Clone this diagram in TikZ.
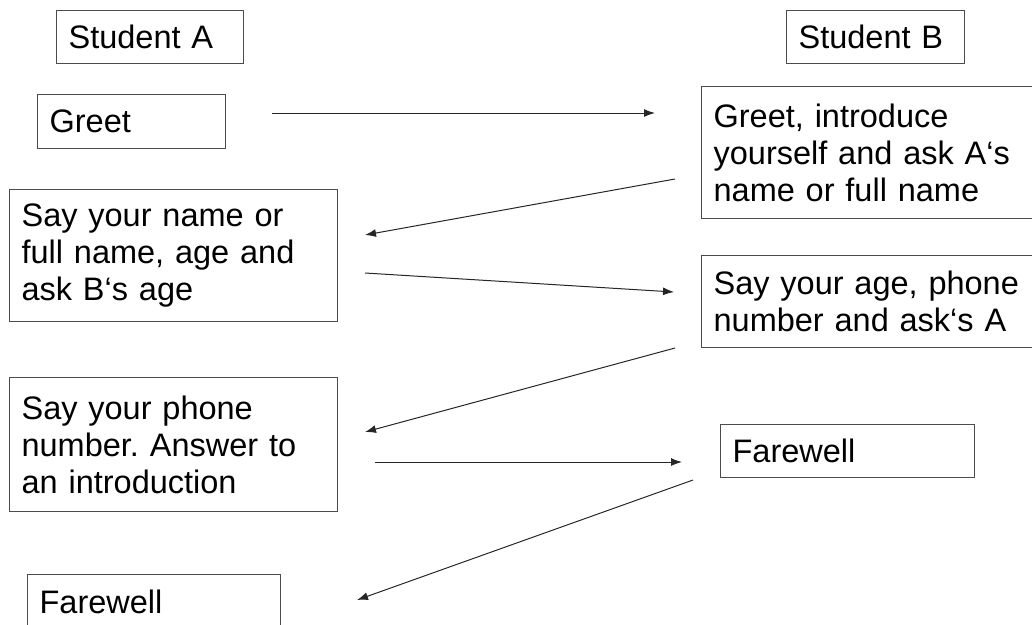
\documentclass[tikz,border=0pt]{standalone}
\usepackage{fontspec}
\setmainfont{Liberation Sans}
\usepackage{tikz}
\usetikzlibrary{positioning,arrows.meta}

\begin{document}
\frenchspacing
\begin{tikzpicture}[x=1pt,y=-1pt,
	box/.style={draw=black!70, line width=1.2pt, rectangle, anchor=north west, align=left,
		inner xsep=12pt, inner ysep=0pt, font=\fontsize{32.5}{37}\selectfont},
	talk/.style={-{Latex[length=11pt,width=8pt]}, line width=1pt, black!85}]
\useasboundingbox (0,0) rectangle (1032,624);

\node[box, minimum width=187pt, minimum height=53pt, text width=163pt] (studA) at (56,10) {Student A};
\node[box, minimum width=178pt, minimum height=53pt, text width=154pt] (studB) at (786,10) {Student B};

\node[box, minimum width=188pt, minimum height=54pt, text width=164pt] (greetA) at (37,94) {Greet};
\node[box, minimum width=335pt, minimum height=132pt, text width=311pt] (greetB) at (701,86) {Greet, introduce\\yourself and ask A‘s\\name or full name};

\node[box, minimum width=328pt, minimum height=132pt, text width=304pt] (nameA) at (9,189) {Say your name or\\full name, age and\\ask B‘s age};
\node[box, minimum width=335pt, minimum height=92pt, text width=311pt] (ageB) at (701,255) {Say your age, phone\\number and ask‘s A};

\node[box, minimum width=328pt, minimum height=134pt, text width=304pt] (phoneA) at (9,377) {Say your phone\\number. Answer to\\an introduction};
\node[box, minimum width=254pt, minimum height=53pt, text width=230pt] (fareB) at (720,424) {Farewell};

\node[box, minimum width=253pt, minimum height=54pt, text width=229pt] (fareA) at (27,574) {Farewell};

		% ends of the arrows
		\coordinate (g1) at (272,113);
		\coordinate (g2) at (655,113);
		\coordinate (n1) at (675,179);
		\coordinate (n2) at (365,235);
		\coordinate (a1) at (365,273);
		\coordinate (a2) at (674,292);
		\coordinate (p1) at (675,348);
		\coordinate (p2) at (365,432);
		\coordinate (f1) at (375,462);
		\coordinate (f2) at (682,462);
		\coordinate (e1) at (693,480);
		\coordinate (e2) at (357,600);

\draw[talk] (g1) -- (g2);
\draw[talk] (n1) -- (n2);
\draw[talk] (a1) -- (a2);
\draw[talk] (p1) -- (p2);
\draw[talk] (f1) -- (f2);
\draw[talk] (e1) -- (e2);

\end{tikzpicture}
\end{document}
